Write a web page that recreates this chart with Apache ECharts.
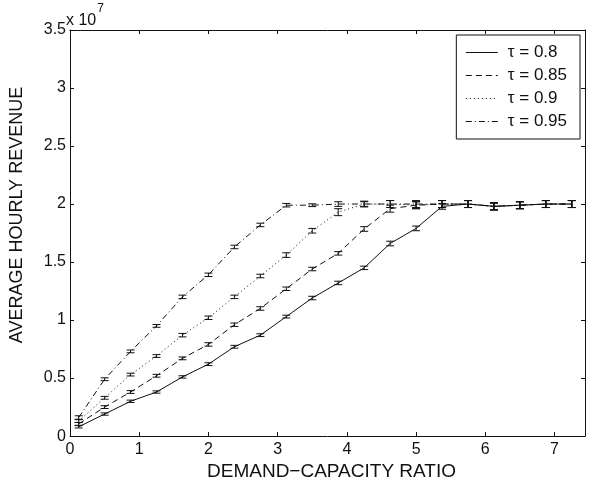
<!DOCTYPE html>
<html>
<head>
<meta charset="utf-8">
<script src="https://cdn.jsdelivr.net/npm/echarts@6/dist/echarts.min.js"></script>
<style>
  html, body { margin: 0; padding: 0; background: #fff; }
  #chart { width: 592px; height: 486px; }
</style>
</head>
<body>
<div id="chart"></div>
<script>
// demand-capacity ratio at each run
const ratios = [0.125, 0.5, 0.875, 1.25, 1.625, 2.0, 2.375, 2.75, 3.125, 3.5,
  3.875, 4.25, 4.625, 5.0, 5.375, 5.75, 6.125, 6.5, 6.875, 7.25]

// average hourly revenue, in units of 1e7
const tau080 = [0.08, 0.19, 0.30, 0.38, 0.51, 0.62, 0.77, 0.87, 1.03, 1.19,
  1.32, 1.45, 1.66, 1.79, 1.98, 2.0, 1.98, 1.99, 2.0, 2.0]
const tau085 = [0.105, 0.25, 0.38, 0.52, 0.67, 0.79, 0.96, 1.10, 1.27, 1.44,
  1.575, 1.785, 1.96, 1.99, 2.0, 2.0, 1.98, 1.99, 2.0, 2.0]
const tau090 = [0.13, 0.33, 0.53, 0.69, 0.87, 1.02, 1.20, 1.38, 1.56, 1.77,
  1.93, 2.0, 2.0, 1.99, 2.0, 2.0, 1.98, 1.99, 2.0, 2.0]
const tau095 = [0.16, 0.49, 0.73, 0.95, 1.20, 1.39, 1.63, 1.82, 1.99, 1.99,
  2.0, 2.0, 2.0, 2.0, 2.0, 2.0, 1.98, 1.99, 2.0, 2.0]

// half-width of the error bars, same units
const err080 = [0.01, 0.01, 0.01, 0.01, 0.01, 0.012, 0.012, 0.012, 0.012, 0.015,
  0.015, 0.015, 0.02, 0.02, 0.025, 0.03, 0.03, 0.03, 0.03, 0.03]
const err085 = [0.012, 0.012, 0.012, 0.012, 0.012, 0.015, 0.015, 0.015, 0.015, 0.015,
  0.015, 0.02, 0.03, 0.03, 0.03, 0.03, 0.03, 0.03, 0.03, 0.03]
const err090 = [0.012, 0.012, 0.012, 0.012, 0.015, 0.015, 0.015, 0.015, 0.02, 0.02,
  0.03, 0.025, 0.03, 0.03, 0.03, 0.03, 0.03, 0.03, 0.03, 0.03]
const err095 = [0.015, 0.012, 0.012, 0.012, 0.015, 0.015, 0.015, 0.015, 0.015, 0.012,
  0.02, 0.02, 0.03, 0.03, 0.03, 0.03, 0.03, 0.03, 0.03, 0.03]

const names = ['τ = 0.8', 'τ = 0.85', 'τ = 0.9', 'τ = 0.95']
const values = [tau080, tau085, tau090, tau095]
const errors = [err080, err085, err090, err095]
const dashes = ['solid', [6, 4], [1, 3], [6, 3, 1, 3]]

const FONT = '"Liberation Sans", Arial, Helvetica, sans-serif'
const INK = '#111'

const lineSeries = names.map((name, k) => ({
  name,
  type: 'line',
  data: ratios.map((x, i) => [x, values[k][i]]),
  symbol: 'none',
  showSymbol: false,
  animation: false,
  z: 3,
  lineStyle: { color: INK, width: 1, type: dashes[k] },
  itemStyle: { color: INK }
}))

const errorSeries = names.map((name, k) => ({
  type: 'custom',
  animation: false,
  silent: true,
  z: 4,
  data: ratios.map((x, i) => [x, values[k][i] - errors[k][i], values[k][i] + errors[k][i]]),
  renderItem(params, api) {
    const lo = api.coord([api.value(0), api.value(1)])
    const hi = api.coord([api.value(0), api.value(2)])
    const half = 4
    const style = { stroke: INK, lineWidth: 1 }
    return {
      type: 'group',
      children: [
        { type: 'line', shape: { x1: lo[0], y1: lo[1], x2: hi[0], y2: hi[1] }, style },
        { type: 'line', shape: { x1: lo[0] - half, y1: lo[1], x2: lo[0] + half, y2: lo[1] }, style },
        { type: 'line', shape: { x1: hi[0] - half, y1: hi[1], x2: hi[0] + half, y2: hi[1] }, style }
      ]
    }
  }
}))

const axisCommon = {
  axisLine: { show: true, onZero: false, lineStyle: { color: INK, width: 1 } },
  axisTick: { show: true, inside: true, length: 4, lineStyle: { color: INK } },
  splitLine: { show: false }
}

const chart = echarts.init(document.getElementById('chart'))
chart.setOption({
  backgroundColor: '#fff',
  animation: false,
  textStyle: { fontFamily: FONT },
  grid: { left: 67, right: 7, top: 30, bottom: 42 },
  xAxis: [
    {
      type: 'value', min: 0, max: 7.44, interval: 1, position: 'bottom',
      ...axisCommon,
      axisLabel: { color: INK, fontSize: 16, margin: 5, fontFamily: FONT, showMaxLabel: false },
      name: 'DEMAND\u2212CAPACITY RATIO', nameLocation: 'middle', nameGap: 21,
      nameTextStyle: { color: INK, fontSize: 19, fontFamily: FONT, padding: [0, 0, 0, 8] }
    },
    {
      type: 'value', min: 0, max: 7.44, interval: 1, position: 'top',
      ...axisCommon, axisLabel: { show: false }
    }
  ],
  yAxis: [
    {
      type: 'value', min: 0, max: 3.5, interval: 0.5, position: 'left',
      ...axisCommon,
      axisLabel: { color: INK, fontSize: 16, margin: 4, fontFamily: FONT },
      name: 'AVERAGE HOURLY REVENUE', nameLocation: 'middle', nameGap: 44,
      nameTextStyle: { color: INK, fontSize: 18, fontFamily: FONT, padding: [0, 0, 0, 36] }
    },
    {
      type: 'value', min: 0, max: 3.5, interval: 0.5, position: 'right',
      ...axisCommon, axisLabel: { show: false }
    }
  ],
  legend: {
    data: names,
    orient: 'vertical',
    right: 12,
    top: 35,
    padding: [9, 13, 9, 9],
    itemGap: 6,
    itemWidth: 32,
    itemHeight: 16,
    backgroundColor: '#fff',
    borderColor: INK,
    borderWidth: 1,
    borderRadius: 0,
    itemStyle: { opacity: 0 },
    lineStyle: { width: 1 },
    textStyle: { color: INK, fontSize: 17, fontFamily: FONT, padding: [0, 0, 0, 5] }
  },
  graphic: [
    {
      type: 'text', left: 66, top: 3,
      style: {
        text: '{b|x 10}{s|7}',
        rich: {
          b: { fontSize: 16, fontFamily: FONT, fill: INK, padding: [10, 0, 0, 0] },
          s: { fontSize: 12, fontFamily: FONT, fill: INK, verticalAlign: 'top', padding: [0, 0, 8, 1] }
        }
      }
    }
  ],
  series: [...lineSeries, ...errorSeries]
})
</script>
</body>
</html>
